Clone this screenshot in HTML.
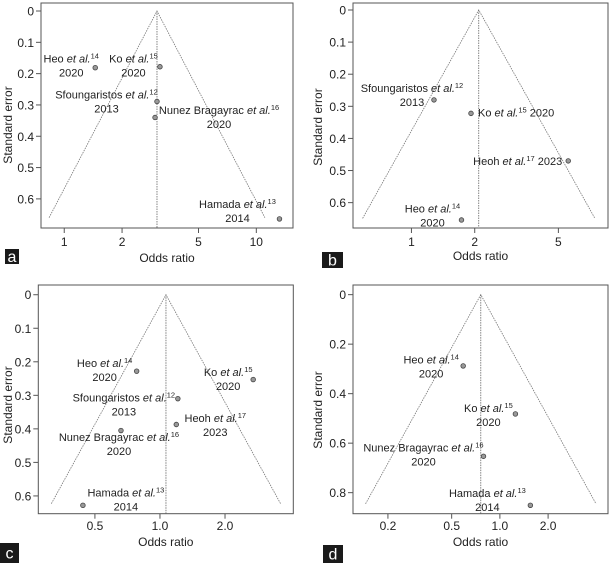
<!DOCTYPE html>
<html><head><meta charset="utf-8">
<style>
html,body{margin:0;padding:0;background:#fff;}
svg{display:block;font-family:"Liberation Sans",Arial,sans-serif;}
.tick{font-size:12px;fill:#222;}
.lab{font-size:11px;fill:#222;}
</style></head>
<body>
<svg id="chart" width="610" height="563" viewBox="0 0 610 563"></svg>
<script>
// ---- Panel data ----
const panelIds = ['a','b','c','d'];
const pooledOR = [3.04, 2.09, 1.066, 0.76];
const funnelMaxSE = [0.66, 0.649, 0.623, 0.845];
const xTickValues = [[1,2,5,10],[1,2,5],[0.5,1.0,2.0],[0.2,0.5,1.0,2.0]];
const xTickLabels = [['1','2','5','10'],['1','2','5'],['0.5','1.0','2.0'],['0.2','0.5','1.0','2.0']];
const yTickValues = [[0,0.1,0.2,0.3,0.4,0.5,0.6],[0,0.1,0.2,0.3,0.4,0.5,0.6],[0,0.1,0.2,0.3,0.4,0.5,0.6],[0,0.2,0.4,0.6,0.8]];
const yTickLabels = [['0','0.1','0.2','0.3','0.4','0.5','0.6'],['0','0.1','0.2','0.3','0.4','0.5','0.6'],['0','0.1','0.2','0.3','0.4','0.5','0.6'],['0','0.2','0.4','0.6','0.8']];
const studyNames = [
 ['Heo','Ko','Sfoungaristos','Nunez Bragayrac','Hamada'],
 ['Sfoungaristos','Ko','Heoh','Heo'],
 ['Heo','Ko','Sfoungaristos','Heoh','Nunez Bragayrac','Hamada'],
 ['Heo','Ko','Nunez Bragayrac','Hamada']];
const studyRefs = [['14','15','12','16','13'],['12','15','17','14'],['14','15','12','17','16','13'],['14','15','16','13']];
const studyYears = [['2020','2020','2013','2020','2014'],['2013','2020','2023','2020'],['2020','2020','2013','2023','2020','2014'],['2020','2020','2020','2014']];
const studyOR = [[1.45,3.15,3.04,2.97,13.2],[1.28,1.92,5.57,1.73],[0.78,2.70,1.21,1.19,0.66,0.44],[0.59,1.25,0.79,1.55]];
const studySE = [[0.181,0.178,0.289,0.34,0.664],[0.28,0.322,0.47,0.654],[0.228,0.253,0.31,0.387,0.405,0.628],[0.288,0.482,0.653,0.851]];

// ---- layout (pixels, not data) ----
const boxes = [
 {x0:41,x1:293,y0:3,y1:228,lmin:-0.121,lmax:1.191,smin:-0.0256,smax:0.693,tickY:246,titleY:262,ytx:8,yty:125,letter:[5,249,14,15]},
 {x0:353,x1:608,y0:3,y1:228,lmin:-0.278,lmax:0.935,smin:-0.0218,smax:0.679,tickY:246,titleY:260,ytx:318,yty:127,letter:[322,252,21,16]},
 {x0:38.3,x1:293.3,y0:285,y1:513.7,lmin:-0.563,lmax:0.617,smin:-0.029,smax:0.653,tickY:530,titleY:546,ytx:8,yty:405,letter:[0,543,19,20]},
 {x0:353,x1:608,y0:285,y1:513.7,lmin:-0.917,lmax:0.675,smin:-0.039,smax:0.885,tickY:530,titleY:546,ytx:318,yty:410,letter:[323,545,20,18]}];
// label layout: [dx, dy of first baseline, anchor, singleLine]
const labelLayout = [
 [[-24,-5,'middle',0],[-26.5,-4,'middle',0],[-50.5,-3,'middle',0],[64,-3.5,'middle',0],[-42,-11,'middle',0]],
 [[-22,-7.7,'middle',0],[7,3,'start',1],[-6,4,'end',1],[-29,-7.7,'middle',0]],
 [[-32,-4.3,'middle',0],[-25,-3.4,'middle',0],[-54,3,'middle',0],[39,-2.7,'middle',0],[-2,10.6,'middle',0],[43,-9,'middle',0]],
 [[-32,-2.3,'middle',0],[-27,-2,'middle',0],[-60,-5,'middle',0],[-43,-8.3,'middle',0]]];

const NS='http://www.w3.org/2000/svg';
const svg=document.getElementById('chart');
function mk(tag,attrs,parent){const e=document.createElementNS(NS,tag);for(const k in attrs)e.setAttribute(k,attrs[k]);(parent||svg).appendChild(e);return e;}

panelIds.forEach((pid,p)=>{
 const b=boxes[p];
 const g=mk('g',{});
 
 
 const X=v=>b.x0+(Math.log10(v)-b.lmin)/(b.lmax-b.lmin)*(b.x1-b.x0);
 const Y=s=>b.y0+(s-b.smin)/(b.smax-b.smin)*(b.y1-b.y0);
 const frame=mk('rect',{x:b.x0,y:b.y0,width:b.x1-b.x0,height:b.y1-b.y0,fill:'none',stroke:'#555','stroke-width':1},g);
 
 
 // funnel
 const lp=Math.log(pooledOR[p]), sm=funnelMaxSE[p];
 const ax=X(pooledOR[p]), ay=Y(0);
 const lx=X(Math.exp(lp-1.96*sm)), rx=X(Math.exp(lp+1.96*sm)), by=Y(sm);
 const fl=mk('polyline',{points:`${lx},${by} ${ax},${ay} ${rx},${by}`,fill:'none',stroke:'#777','stroke-width':0.8,'stroke-dasharray':'1.5,1'},g);
 
 
 const vl=mk('line',{x1:ax,y1:ay,x2:ax,y2:b.y1,stroke:'#666','stroke-width':0.8,'stroke-dasharray':'1.5,1'},g);
 
 
 // y ticks
 yTickValues[p].forEach((v,i)=>{
  const y=Y(v);
  mk('line',{x1:b.x0-5,y1:y,x2:b.x0,y2:y,stroke:'#555'},g);
  const t=mk('text',{x:b.x0-7,y:y+4.5,'text-anchor':'end',class:'tick'},g);
  t.textContent=yTickLabels[p][i];
  
  
 });
 xTickValues[p].forEach((v,i)=>{
  const x=X(v);
  mk('line',{x1:x,y1:b.y1,x2:x,y2:b.y1+5,stroke:'#555'},g);
  const t=mk('text',{x:x,y:b.tickY,'text-anchor':'middle',class:'tick'},g);
  t.textContent=xTickLabels[p][i];
  
  
 });
 const xt=mk('text',{x:(b.x0+b.x1)/2,y:b.titleY,'text-anchor':'middle',class:'tick'},g);
 xt.textContent='Odds ratio';
 
 
 const yt=mk('text',{x:0,y:0,'text-anchor':'middle',class:'tick',transform:`translate(${b.ytx+4},${b.yty}) rotate(-90)`},g);
 yt.textContent='Standard error';
 
 
 // points + labels
 studyOR[p].forEach((or,i)=>{
  const px=X(or), py=Y(studySE[p][i]);
  const c=mk('circle',{cx:px,cy:py,r:2.3,fill:'#999',stroke:'#444','stroke-width':0.8},g);
  
  
  const L=labelLayout[p][i];
  const t=mk('text',{x:px+L[0],y:py+L[1],'text-anchor':L[2],class:'lab'},g);
  
  
  const s1=mk('tspan',{},t); s1.textContent=studyNames[p][i]+' ';
  const s2=mk('tspan',{'font-style':'italic'},t); s2.textContent='et al.';
  const s3=mk('tspan',{'font-size':'7.5px',dy:-4},t); s3.textContent=studyRefs[p][i];
  if(L[3]){
   const s4=mk('tspan',{dy:4},t); s4.textContent=' '+studyYears[p][i];
  } else {
   const t2=mk('text',{x:px+L[0],y:py+L[1]+14,'text-anchor':'middle',class:'lab'},g);
   t2.textContent=studyYears[p][i];
   
   
  }
 });
 // panel letter
 const [lx0,ly0,lw,lh]=b.letter;
 const r=mk('rect',{x:lx0,y:ly0,width:lw,height:lh,fill:'#1a1a1a'},g);
 
 
 const lt=mk('text',{x:lx0+lw/2,y:ly0+lh/2+5.5,'text-anchor':'middle','font-size':'16px',fill:'#fff'},g);
 lt.textContent=pid;
 
 
});
</script>
</body></html>
